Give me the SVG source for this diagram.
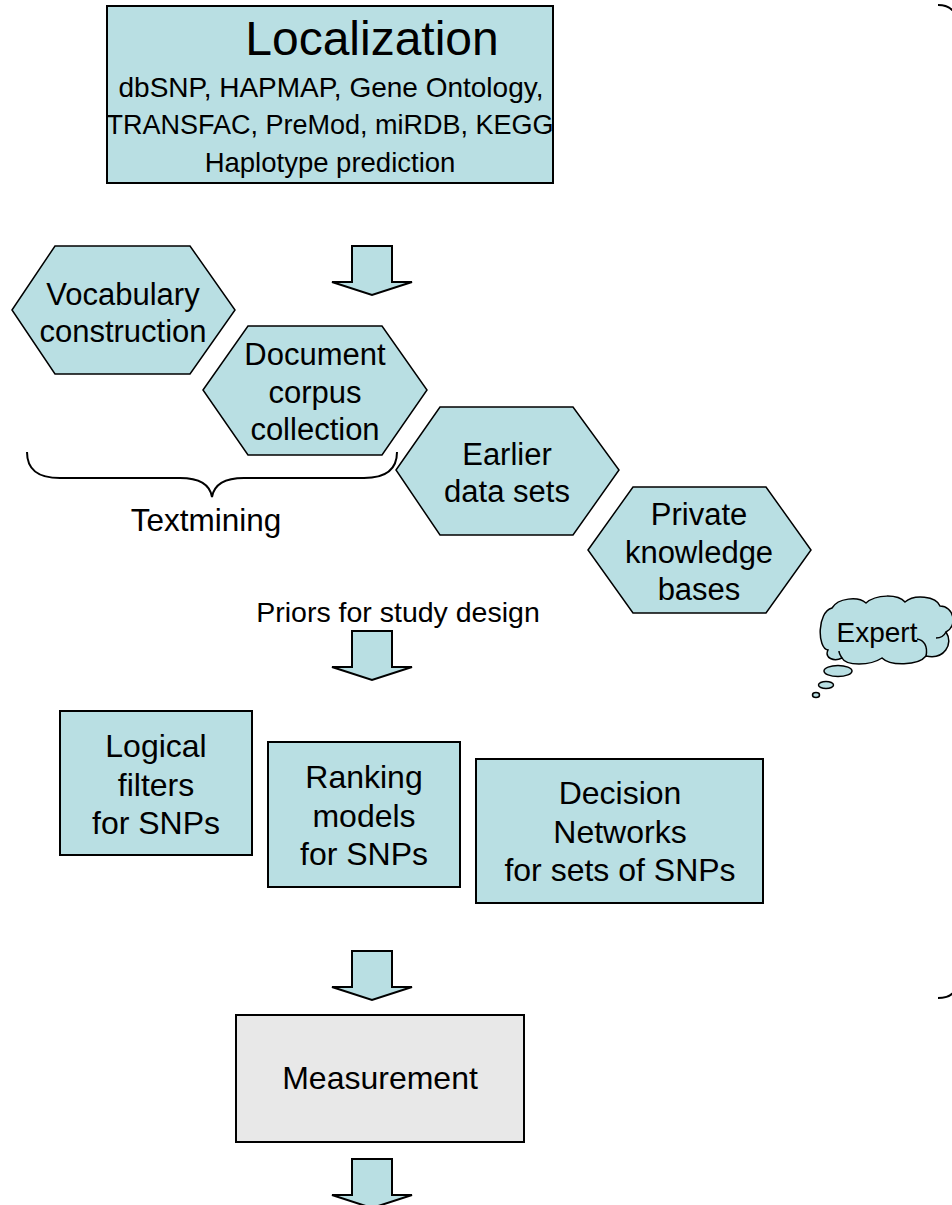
<svg xmlns="http://www.w3.org/2000/svg" width="952" height="1205" viewBox="0 0 952 1205">
  <style>
    text { font-family: "Liberation Sans", Arial, sans-serif; fill: #000; text-anchor: middle; }
    .box { fill: #b9dfe3; stroke: #000; stroke-width: 2; }
    .hex { fill: #b9dfe3; stroke: #000; stroke-width: 1.5; }
    .grey { fill: #e8e8e8; stroke: #000; stroke-width: 2; }
    .arrow { fill: #b9dfe3; stroke: #000; stroke-width: 2; stroke-linejoin: miter; }
    .brace { fill: none; stroke: #000; stroke-width: 2; }
    .cloud { fill: #b9dfe3; stroke: #000; stroke-width: 1.5; }
    .t31 { font-size: 31px; }
    .t32 { font-size: 32px; }
  </style>
  <defs>
    <!-- block arrow pointing down, origin at the top-left of its shaft -->
    <path id="downArrow" d="M0,0 H40 V36 H60 L20,49 L-20,36 H0 Z"/>
  </defs>

  <!-- Localization box -->
  <g id="localization">
    <rect class="box" x="107" y="6" width="446" height="177"/>
    <text x="372" y="55" style="font-size:48px">Localization</text>
    <text x="331" y="97" style="font-size:28px">dbSNP, HAPMAP, Gene Ontology,</text>
    <text x="330" y="134" style="font-size:27px">TRANSFAC, PreMod, miRDB, KEGG</text>
    <text x="330" y="172" style="font-size:27.5px">Haplotype prediction</text>
  </g>

  <!-- flow arrows -->
  <g id="connectors">
    <use href="#downArrow" class="arrow" x="352" y="246"/>
    <use href="#downArrow" class="arrow" x="352" y="631"/>
    <use href="#downArrow" class="arrow" x="352" y="951"/>
    <use href="#downArrow" class="arrow" x="352" y="1159"/>
  </g>

  <!-- knowledge sources -->
  <g id="vocabulary">
    <polygon class="hex" points="12,310 55,246 190,246 235,310 190,374 55,374"/>
    <text class="t31" x="123" y="305">Vocabulary</text>
    <text class="t31" x="123" y="342">construction</text>
  </g>
  <g id="document-corpus">
    <polygon class="hex" points="203,390 248,326 382,326 427,390 382,455 248,455"/>
    <text class="t31" x="315" y="365">Document</text>
    <text class="t31" x="315" y="403">corpus</text>
    <text class="t31" x="315" y="440">collection</text>
  </g>
  <g id="earlier-data">
    <polygon class="hex" points="396,470 440,407 573,407 619,470 573,535 440,535"/>
    <text class="t31" x="507" y="465">Earlier</text>
    <text class="t31" x="507" y="502">data sets</text>
  </g>
  <g id="private-kb">
    <polygon class="hex" points="588,550 633,487 766,487 811,550 766,613 633,613"/>
    <text class="t31" x="699" y="525">Private</text>
    <text class="t31" x="699" y="563">knowledge</text>
    <text class="t31" x="699" y="600">bases</text>
  </g>

  <!-- textmining brace -->
  <g id="textmining">
    <path class="brace" d="M27,452 C27,470 38,478 60,478 L180,478 C200,478 210,485 212,497 C214,485 224,478 244,478 L364,478 C386,478 397,470 397,452"/>
    <text x="206" y="531" style="font-size:31.5px">Textmining</text>
  </g>

  <g id="priors">
    <text x="398" y="622" style="font-size:28.5px">Priors for study design</text>
  </g>

  <!-- expert thought cloud -->
  <g id="expert">
    <path class="cloud" d="M828,650 C817,648 817,612 832,608 C838,598 858,596 866,603 C876,594 898,594 905,602 C914,594 936,596 940,606 C954,606 958,626 946,632 C954,644 944,660 926,656 C918,666 890,666 882,658 C870,666 846,666 842,658 C834,662 824,658 828,650 Z"/>
    <path fill="none" stroke="#000" stroke-width="1.5" d="M926,656 C928,646 924,640 917,639 M946,632 C944,636 940,638 936,638 M842,658 C840,655 839,653 839,651"/>
    <ellipse class="cloud" cx="838" cy="671" rx="14" ry="5.5"/>
    <ellipse class="cloud" cx="826" cy="685" rx="7.5" ry="3.5"/>
    <ellipse class="cloud" cx="816" cy="695" rx="3.5" ry="2.5"/>
    <text x="877" y="642" style="font-size:28px">Expert</text>
  </g>

  <!-- study design models -->
  <g id="logical-filters">
    <rect class="box" x="60" y="711" width="192" height="144"/>
    <text class="t32" x="156" y="757">Logical</text>
    <text class="t32" x="156" y="796">filters</text>
    <text class="t32" x="156" y="834">for SNPs</text>
  </g>
  <g id="ranking-models">
    <rect class="box" x="268" y="742" width="192" height="145"/>
    <text class="t32" x="364" y="788">Ranking</text>
    <text class="t32" x="364" y="827">models</text>
    <text class="t32" x="364" y="865">for SNPs</text>
  </g>
  <g id="decision-networks">
    <rect class="box" x="476" y="759" width="287" height="144"/>
    <text class="t32" x="620" y="804">Decision</text>
    <text class="t32" x="620" y="843">Networks</text>
    <text class="t32" x="620" y="881">for sets of SNPs</text>
  </g>

  <g id="measurement">
    <rect class="grey" x="236" y="1015" width="288" height="127"/>
    <text class="t32" x="380" y="1089">Measurement</text>
  </g>

  <!-- large right brace spanning the upper part of the flow -->
  <g id="outer-brace">
    <path class="brace" d="M938,5 C950,5 958,12 958,26 L958,490 C958,498 962,501 980,502 C962,503 958,506 958,514 L958,978 C958,992 950,998 938,998"/>
  </g>
</svg>
